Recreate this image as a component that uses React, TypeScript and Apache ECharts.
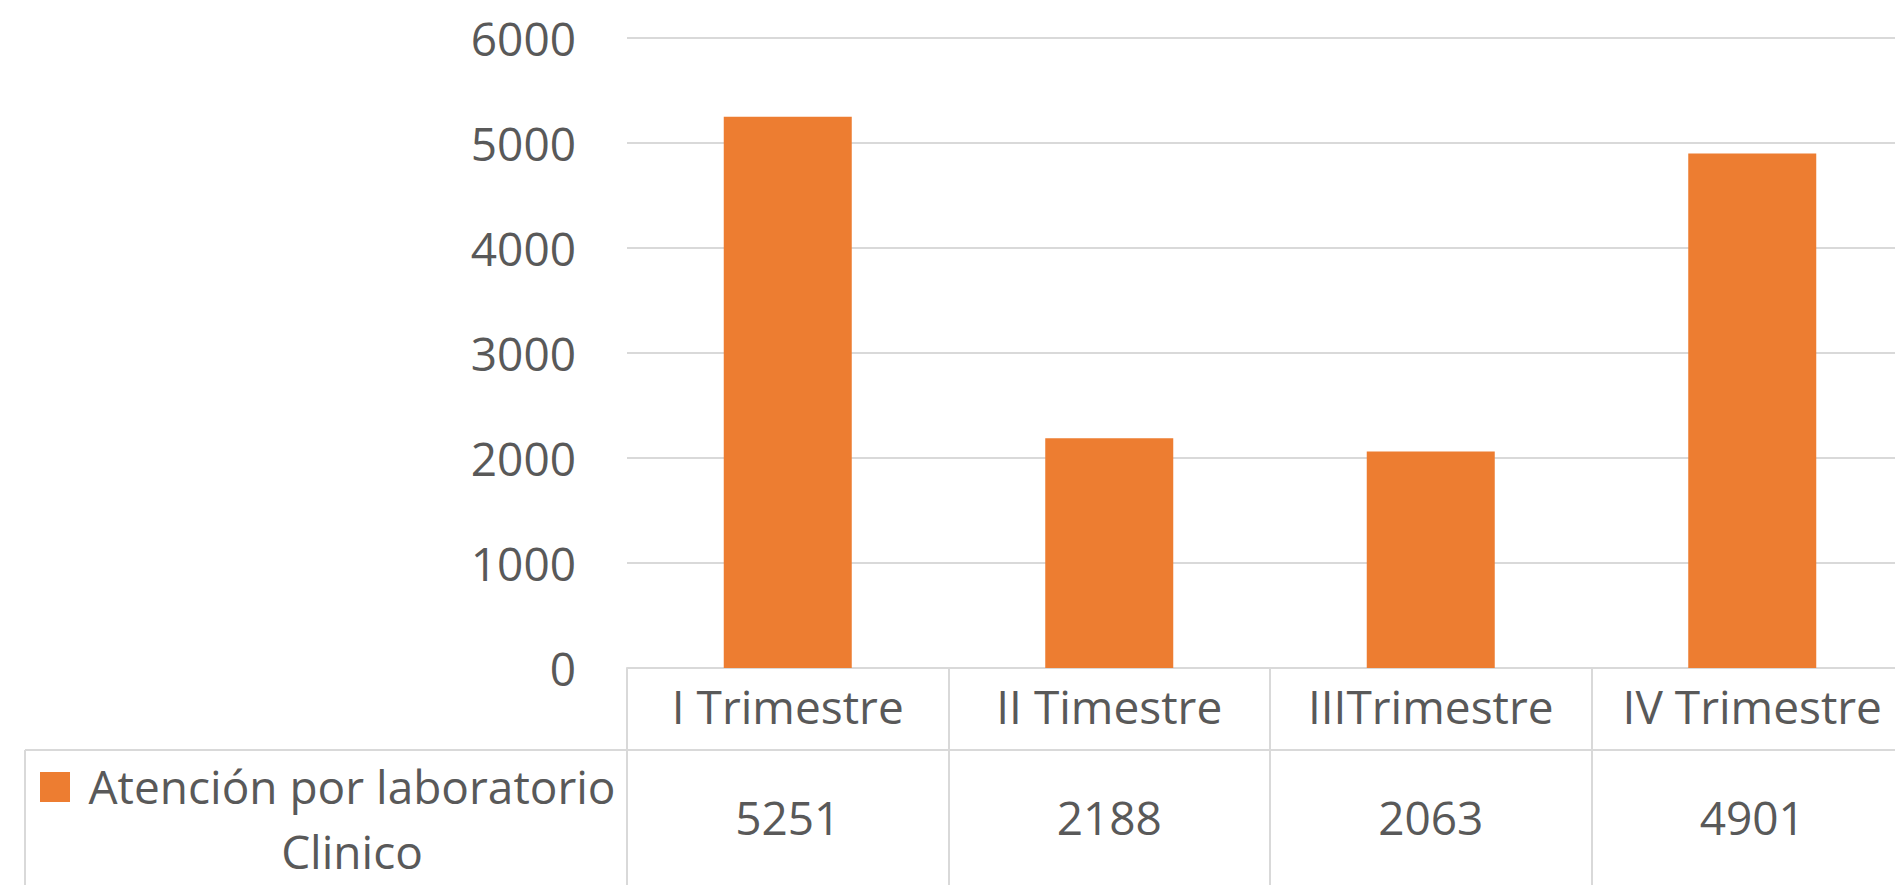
import React, { useEffect, useRef } from "react";
import * as echarts from "echarts";

const categories = ["I Trimestre", "II Timestre", "IIITrimestre", "IV Trimestre"];
const values = [5251, 2188, 2063, 4901];
const seriesName = "Atención por laboratorio Clinico";
const legendLines = ["Atención por laboratorio", "Clinico"];
const yMin = 0;
const yMax = 6000;
const yInterval = 1000;

const TEXT = "#595959";
const GRID = "#D9D9D9";
const BAR = "#ED7D31";
const FONT = "Open Sans";

export default function App() {
  const ref = useRef<HTMLDivElement>(null);
  useEffect(() => {
    document.body.style.margin = "0";
    document.body.style.overflow = "hidden";
    if (!ref.current) return;
    const chart = echarts.init(ref.current, undefined, { renderer: "svg" });
    chart.setOption({
      animation: false,
      textStyle: { fontFamily: FONT },
      grid: { left: 627, top: 38, right: 0, height: 630 },
      xAxis: [
        {
          type: "category",
          data: categories,
          position: "bottom",
          axisLine: { show: true, lineStyle: { color: GRID, width: 2 } },
          axisTick: { show: true, alignWithLabel: false, interval: 0, length: 219, lineStyle: { color: GRID, width: 2 } },
          axisLabel: { color: TEXT, fontSize: 46, fontFamily: FONT, margin: 15, interval: 0 },
          splitLine: { show: false },
        },
        {
          type: "category",
          data: values.map((v) => String(v)),
          position: "bottom",
          axisLine: { show: false },
          axisTick: { show: false },
          axisLabel: { color: TEXT, fontSize: 46, fontFamily: FONT, margin: 126, interval: 0 },
          splitLine: { show: false },
        },
      ],
      yAxis: {
        type: "value",
        min: yMin,
        max: yMax,
        interval: yInterval,
        axisLine: { show: false },
        axisTick: { show: false },
        axisLabel: { color: TEXT, fontSize: 46, fontFamily: FONT, margin: 51, formatter: (v: number) => String(v) },
        splitLine: { show: true, lineStyle: { color: GRID, width: 2 } },
      },
      series: [
        {
          name: seriesName,
          type: "bar",
          data: values,
          xAxisIndex: 0,
          barWidth: 128,
          itemStyle: { color: BAR },
        },
      ],
      graphic: [
        { type: "line", shape: { x1: 25, y1: 750, x2: 1913, y2: 750 }, style: { stroke: GRID, lineWidth: 2 } },
        { type: "line", shape: { x1: 25, y1: 750, x2: 25, y2: 887 }, style: { stroke: GRID, lineWidth: 2 } },
        { type: "rect", shape: { x: 40, y: 772, width: 30, height: 30 }, style: { fill: BAR } },
        {
          type: "text",
          x: 352,
          y: 818,
          style: {
            text: legendLines.join("\n"),
            fill: TEXT,
            fontSize: 46,
            fontFamily: FONT,
            align: "center",
            verticalAlign: "middle",
            lineHeight: 65,
          },
        },
      ],
    });
    return () => chart.dispose();
  }, []);
  return (
    <div style={{ width: 1895, height: 885, overflow: "hidden" }}>
      <div ref={ref} style={{ width: 1913, height: 885 }} />
    </div>
  );
}
